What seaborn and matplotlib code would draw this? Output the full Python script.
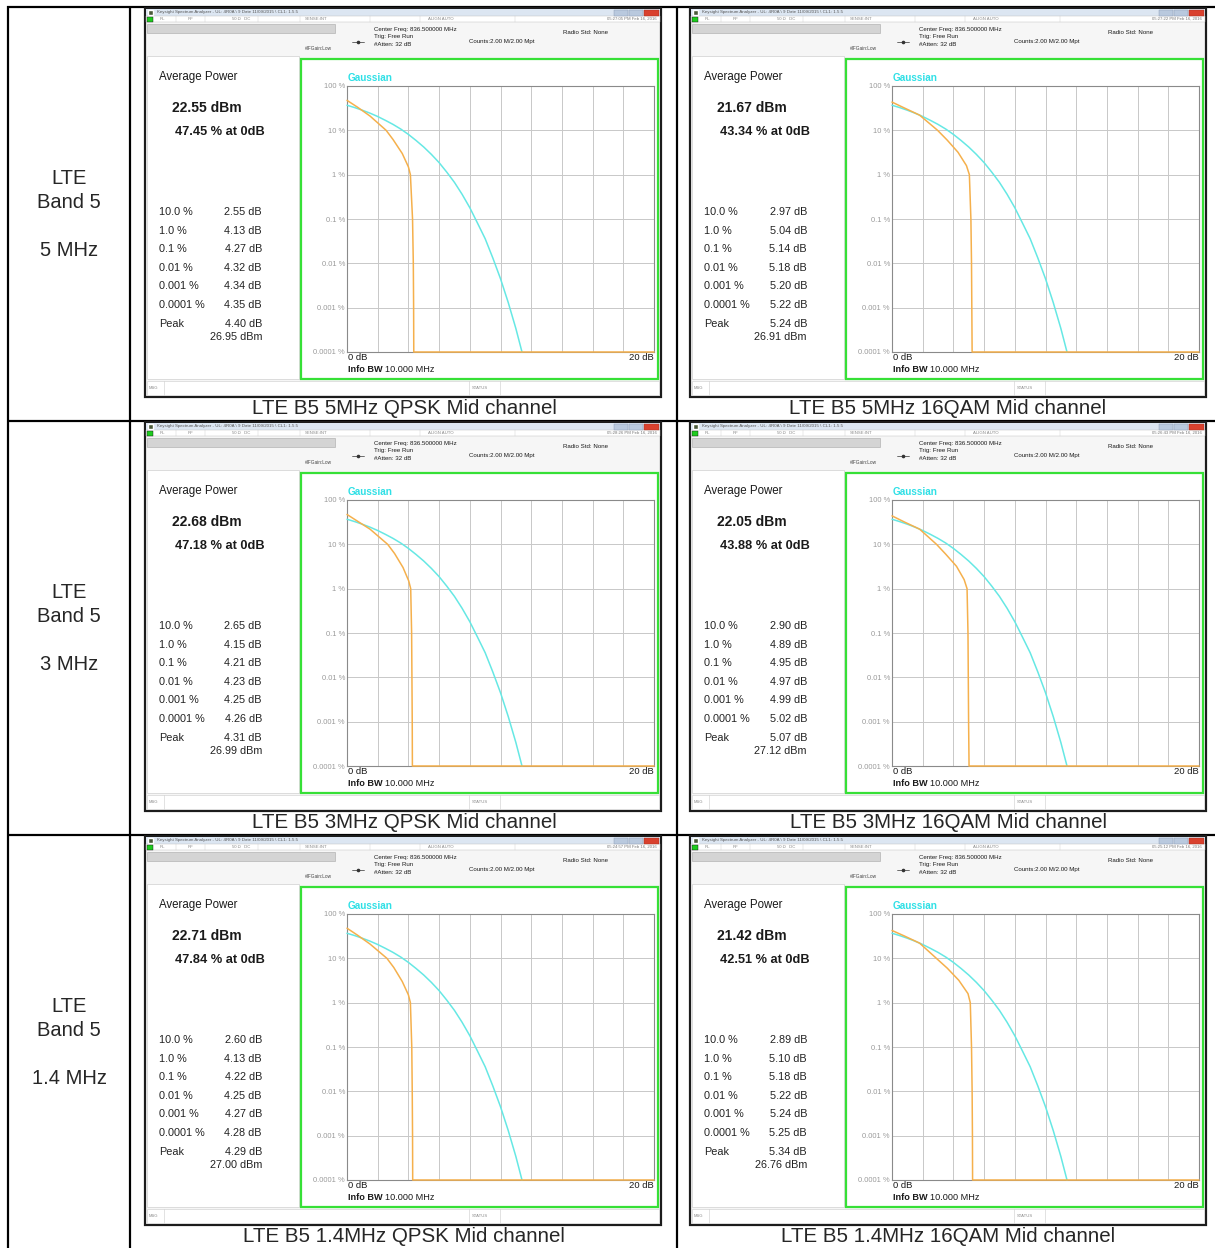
import numpy as np
import pandas as pd
import seaborn as sns
import matplotlib.pyplot as plt
from matplotlib.patches import Rectangle
from matplotlib.ticker import NullLocator

W, H = 1215, 1248

# ---- data ----
row_bw = ["5 MHz", "3 MHz", "1.4 MHz"]
captions = ["LTE B5 5MHz QPSK Mid channel", "LTE B5 5MHz 16QAM Mid channel",
            "LTE B5 3MHz QPSK Mid channel", "LTE B5 3MHz 16QAM Mid channel",
            "LTE B5 1.4MHz QPSK Mid channel", "LTE B5 1.4MHz 16QAM Mid channel"]
timestamps = ["05:27:05 PM Feb 16, 2016", "05:27:22 PM Feb 16, 2016",
              "05:28:26 PM Feb 16, 2016", "05:26:43 PM Feb 16, 2016",
              "05:24:57 PM Feb 16, 2016", "05:25:12 PM Feb 16, 2016"]
avg_dbm = [22.55, 21.67, 22.68, 22.05, 22.71, 21.42]
pct_at_0db = [47.45, 43.34, 47.18, 43.88, 47.84, 42.51]
ccdf_levels = [10.0, 1.0, 0.1, 0.01, 0.001, 0.0001]
ccdf_level_text = ["10.0 %", "1.0 %", "0.1 %", "0.01 %", "0.001 %", "0.0001 %"]
ccdf_db = [[2.55, 4.13, 4.27, 4.32, 4.34, 4.35],
           [2.97, 5.04, 5.14, 5.18, 5.20, 5.22],
           [2.65, 4.15, 4.21, 4.23, 4.25, 4.26],
           [2.90, 4.89, 4.95, 4.97, 4.99, 5.02],
           [2.60, 4.13, 4.22, 4.25, 4.27, 4.28],
           [2.89, 5.10, 5.18, 5.22, 5.24, 5.25]]
peak_db = [4.40, 5.24, 4.31, 5.07, 4.29, 5.34]
peak_dbm = [26.95, 26.91, 26.99, 27.12, 27.00, 26.76]
upper_db = [[0.7, 1.5], [0.8, 1.8], [0.7, 1.5], [0.8, 1.8], [0.7, 1.5], [0.8, 1.8]]
upper_pct = [[33, 21], [32, 22], [33, 22], [32, 22], [33, 21], [32, 22]]
lower_db = [[3.0, 3.6, 4.0], [3.6, 4.3, 4.85], [3.1, 3.65, 4.02],
            [3.5, 4.2, 4.7], [3.05, 3.6, 4.0], [3.6, 4.35, 4.95]]
lower_pct = [[6.2, 3.0, 1.5], [6.0, 3.2, 1.6], [6.2, 3.0, 1.5],
             [6.0, 3.2, 1.6], [6.2, 3.0, 1.5], [6.0, 3.2, 1.6]]
# gaussian reference trace
gauss_db = [0, 0.5, 1, 1.5, 2, 2.5, 3, 3.5, 4, 4.5, 5, 5.5, 6, 6.5, 7, 7.5,
            8, 8.5, 9, 9.5, 10, 10.5, 11, 11.4]
gauss_pct = [36.8, 32.6, 28.4, 24.4, 20.5, 16.8, 13.6, 10.7, 8.1, 5.9, 4.2,
             2.86, 1.87, 1.14, 0.67, 0.36, 0.18, 0.081, 0.036, 0.0132,
             0.0045, 0.00132, 0.00034, 0.0001]
y_ticks = [100, 10, 1, 0.1, 0.01, 0.001, 0.0001]
y_tick_text = ["100 %", "10 %", "1 %", "0.1 %", "0.01 %", "0.001 %", "0.0001 %"]

sns.set_style("white")
plt.rcParams['font.family'] = ['Liberation Sans', 'DejaVu Sans']

fig = plt.figure(figsize=(W / 100, H / 100), dpi=100)
bg = fig.add_axes([0, 0, 1, 1])
bg.set_xlim(0, W)
bg.set_ylim(H, 0)
bg.axis('off')

PX = 0.72  # px -> pt for line widths

# ---- table grid ----
for xv in [8, 130, 677]:
    bg.plot([xv, xv], [6, H], color="black", lw=2.2 * PX, solid_capstyle="butt")
for yv in [7, 421, 835]:
    bg.plot([7, W], [yv, yv], color="black", lw=2.2 * PX, solid_capstyle="butt")

row_oy = [0, 414, 828]
for r, oy in enumerate(row_oy):
    bg.text(69, 179 + oy, "LTE", ha="center", va="center", fontsize=14.5)
    bg.text(69, 203 + oy, "Band 5", ha="center", va="center", fontsize=14.5)
    bg.text(69, 251 + oy, row_bw[r], ha="center", va="center", fontsize=14.5)


def screen(k, ox, oy):
    X = lambda v: v + ox
    Y = lambda v: v + oy
    # window frame
    bg.add_patch(Rectangle((X(145), Y(8)), 516, 389, facecolor="#f6f6f6",
                           edgecolor="#1c1c1c", lw=2.2 * PX, zorder=2))
    # title bar
    bg.add_patch(Rectangle((X(146), Y(9)), 514, 7, facecolor="#dce6f2",
                           edgecolor="none", zorder=3))
    bg.add_patch(Rectangle((X(148), Y(10)), 5, 5, facecolor="#4a5a3a", zorder=4))
    bg.text(X(157), Y(12.5), "Keysight Spectrum Analyzer - UL: 4R0A \\ 9 Date 11/09/2015 \\ CL1: 1.5.5",
            fontsize=3.2, color="#555555", va="center", zorder=4)
    bg.add_patch(Rectangle((X(614), Y(9.5)), 14, 6, facecolor="#b9c9de", ec="#8898b0", lw=0.3, zorder=4))
    bg.add_patch(Rectangle((X(629), Y(9.5)), 14, 6, facecolor="#b9c9de", ec="#8898b0", lw=0.3, zorder=4))
    bg.add_patch(Rectangle((X(644), Y(9.5)), 15, 6, facecolor="#d9412e", ec="#a03020", lw=0.3, zorder=4))
    # status row
    bg.add_patch(Rectangle((X(146), Y(16)), 514, 6, facecolor="white",
                           edgecolor="#bbbbbb", lw=0.3, zorder=3))
    bg.add_patch(Rectangle((X(147), Y(16.5)), 6, 5, facecolor="#1fcc1f",
                           edgecolor="#111111", lw=0.3, zorder=4))
    for sx in [176, 205, 258, 300, 370, 420, 515]:
        bg.plot([X(sx), X(sx)], [Y(16), Y(22)], color="#cccccc", lw=0.3, zorder=4)
    for sx, st in [(160, "RL"), (188, "RF"), (232, "50 Ω   DC"), (305, "SENSE:INT"), (428, "ALIGN AUTO")]:
        bg.text(X(sx), Y(19), st, fontsize=3.1, color="#888888", va="center", zorder=4)
    bg.text(X(657), Y(19), timestamps[k], fontsize=3.1, color="#777777", va="center", ha="right", zorder=4)
    # header
    bg.add_patch(Rectangle((X(147), Y(24)), 188, 9, facecolor="#d4d4d4",
                           edgecolor="#a8a8a8", lw=0.4, zorder=3))
    hdr = dict(fontsize=4.4, color="#1a1a1a", va="center", zorder=4)
    bg.text(X(374), Y(29.5), "Center Freq: 836.500000 MHz", **hdr)
    bg.text(X(374), Y(36.5), "Trig: Free Run", **hdr)
    bg.text(X(374), Y(44), "#Atten: 32 dB", **hdr)
    bg.text(X(469), Y(41), "Counts:2.00 M/2.00 Mpt", **hdr)
    bg.text(X(563), Y(33), "Radio Std: None", **hdr)
    bg.text(X(305), Y(48), "#IFGain:Low", fontsize=3.4, color="#444444", va="center", zorder=4)
    bg.plot([X(352), X(364)], [Y(42), Y(42)], color="#333333", lw=0.5, zorder=4)
    bg.plot([X(358)], [Y(42)], marker="o", ms=1.6, color="#333333", zorder=4)
    # left result panel
    bg.add_patch(Rectangle((X(147), Y(56)), 152, 323, facecolor="white",
                           edgecolor="#d0d0d0", lw=0.5, zorder=3))
    bg.text(X(159), Y(77), "Average Power", fontsize=8.3, color="#1a1a1a", va="center", zorder=4)
    bg.text(X(172), Y(108), f"{avg_dbm[k]:.2f} dBm", fontsize=10, fontweight="bold",
            color="#1a1a1a", va="center", zorder=4)
    bg.text(X(175), Y(132), f"{pct_at_0db[k]:.2f} % at 0dB", fontsize=9.2, fontweight="bold",
            color="#1a1a1a", va="center", zorder=4)
    for j in range(6):
        yy = Y(212 + j * 18.6)
        bg.text(X(159), yy, ccdf_level_text[j], fontsize=7.8, color="#222222", va="center", zorder=4)
        bg.text(X(262), yy, f"{ccdf_db[k][j]:.2f} dB", fontsize=7.8, color="#222222",
                va="center", ha="right", zorder=4)
    bg.text(X(159), Y(323.6), "Peak", fontsize=7.8, color="#222222", va="center", zorder=4)
    bg.text(X(262), Y(323.6), f"{peak_db[k]:.2f} dB", fontsize=7.8, color="#222222",
            va="center", ha="right", zorder=4)
    bg.text(X(262), Y(337), f"{peak_dbm[k]:.2f} dBm", fontsize=7.8, color="#222222",
            va="center", ha="right", zorder=4)
    # green trace window
    bg.add_patch(Rectangle((X(301), Y(59)), 357, 320, facecolor="white",
                           edgecolor="#36e036", lw=1.6, zorder=3))
    bg.text(X(348), Y(78), "Gaussian", fontsize=7.2, fontweight="bold", color="#2fe0e6",
            va="center", zorder=4)
    bg.text(X(348), Y(358), "0 dB", fontsize=6.8, color="#1a1a1a", va="center", zorder=4)
    bg.text(X(654), Y(358), "20 dB", fontsize=6.8, color="#1a1a1a", va="center", ha="right", zorder=4)
    bg.text(X(348), Y(369), "Info BW", fontsize=6.6, fontweight="bold", color="#1a1a1a",
            va="center", zorder=4)
    bg.text(X(385), Y(369), "10.000 MHz", fontsize=6.6, color="#1a1a1a", va="center", zorder=4)
    # bottom message bar
    bg.add_patch(Rectangle((X(147), Y(381)), 512, 14, facecolor="white",
                           edgecolor="#cccccc", lw=0.4, zorder=3))
    bg.plot([X(164), X(164)], [Y(381), Y(395)], color="#cccccc", lw=0.4, zorder=4)
    bg.plot([X(469), X(469)], [Y(381), Y(395)], color="#cccccc", lw=0.4, zorder=4)
    bg.plot([X(500), X(500)], [Y(381), Y(395)], color="#cccccc", lw=0.4, zorder=4)
    bg.text(X(149), Y(388), "MSG", fontsize=3, color="#888888", va="center", zorder=4)
    bg.text(X(472), Y(388), "STATUS", fontsize=3, color="#888888", va="center", zorder=4)

    # CCDF plot
    ax = fig.add_axes([X(347) / W, 1 - Y(352) / H, 307 / W, 266 / H])
    meas_db = [0] + upper_db[k] + [ccdf_db[k][0]] + lower_db[k] + ccdf_db[k][1:] + [20]
    meas_pct = [pct_at_0db[k]] + upper_pct[k] + [ccdf_levels[0]] + lower_pct[k] + ccdf_levels[1:] + [0.0001]
    gdf = pd.DataFrame({"db": gauss_db, "pct": gauss_pct})
    mdf = pd.DataFrame({"db": meas_db, "pct": meas_pct})
    sns.lineplot(data=gdf, x="db", y="pct", ax=ax, color="#66e8e4", lw=1.1,
                 estimator=None, sort=False, clip_on=False, zorder=5)
    sns.lineplot(data=mdf, x="db", y="pct", ax=ax, color="#f5b04c", lw=1.1,
                 estimator=None, sort=False, clip_on=False, zorder=6)
    ax.set_yscale("log")
    ax.set_xlim(0, 20)
    ax.set_ylim(0.0001, 100)
    ax.set_xticks(range(0, 21, 2))
    ax.set_xticklabels([])
    ax.set_yticks(y_ticks)
    ax.set_yticklabels(y_tick_text)
    ax.yaxis.set_minor_locator(NullLocator())
    ax.set_xlabel("")
    ax.set_ylabel("")
    ax.grid(True, color="#c8c8c8", lw=0.7)
    ax.tick_params(length=0, pad=1.5, labelsize=5.4, labelcolor="#9a9a9a")
    for sp in ax.spines.values():
        sp.set_color("#8a8a8a")
        sp.set_linewidth(0.8)
    ax.set_facecolor("white")


col_ox = [0, 545]
for r in range(3):
    for c in range(2):
        k = r * 2 + c
        screen(k, col_ox[c], row_oy[r])
        cx = 404 if c == 0 else 948
        bg.text(cx, 409 + row_oy[r], captions[k], ha="center", va="center", fontsize=14.8)

fig.savefig("out.png", dpi=100)
